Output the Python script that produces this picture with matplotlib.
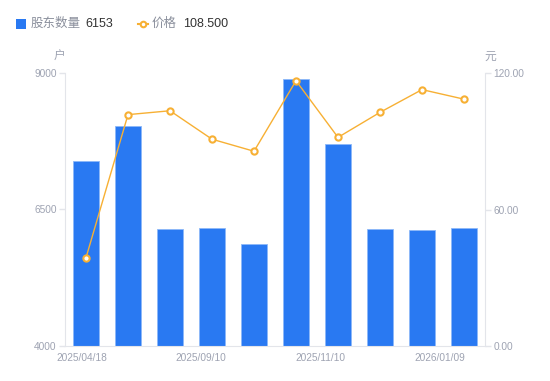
import numpy as np
import matplotlib
matplotlib.use("Agg")
import matplotlib.pyplot as plt
from matplotlib.lines import Line2D
from matplotlib.patches import Rectangle

plt.rcParams['font.family'] = ['Liberation Sans', 'Noto Sans CJK SC', 'DejaVu Sans']

# data
holders = [7390, 8035, 6140, 6155, 5865, 8885, 7700, 6145, 6120, 6153]
prices = [38.8, 101.7, 103.4, 90.9, 85.6, 116.6, 91.7, 102.7, 112.7, 108.5]
date_labels = ["2025/04/18", "2025/09/10", "2025/11/10", "2026/01/09"]

bar_color = "#2979F2"
line_color = "#F7B034"
tick_color = "#9EA3B2"
axis_color = "#E3E5EA"

fig = plt.figure(figsize=(5.5, 3.81), dpi=100)
W, H = 550, 381
ax = fig.add_axes([65 / W, 1 - 346 / H, 420 / W, 273 / H])
ax2 = ax.twinx()

x = np.arange(len(holders))
ax.bar(x, holders, width=0.6, color=bar_color, edgecolor="#8DB8F8", linewidth=0.6, zorder=2)
ax.set_xlim(-0.5, len(holders) - 0.5)
ax.set_ylim(4000, 9000)
ax.set_yticks([4000, 6500, 9000])

ax2.plot(x, prices, color=line_color, linewidth=1, marker="o", markersize=4.5,
         markerfacecolor="white", markeredgecolor=line_color, markeredgewidth=1.5, zorder=3)
ax2.set_ylim(0, 120)
ax2.set_yticks([0, 60, 120])
ax2.set_yticklabels(["0.00", "60.00", "120.00"])

ax.set_xticks(np.linspace(-0.1, 8.43, len(date_labels)))
ax.set_xticklabels(date_labels)

for a in (ax, ax2):
    for s in a.spines.values():
        s.set_visible(False)
    a.tick_params(axis="y", colors=axis_color, labelcolor=tick_color, labelsize=7.3, length=4, width=1)
    a.tick_params(axis="x", length=0, labelcolor=tick_color, labelsize=7.3, pad=5)
ax.spines["left"].set_visible(True)
ax.spines["left"].set_color(axis_color)
ax.spines["bottom"].set_visible(True)
ax.spines["bottom"].set_color(axis_color)
ax2.spines["right"].set_visible(True)
ax2.spines["right"].set_color(axis_color)
ax.tick_params(axis="y", pad=2)
ax2.tick_params(axis="y", pad=2)

# unit labels
fig.text(59 / W, 1 - 57 / H, "户", color=tick_color, fontsize=8.5, ha="center", va="center")
fig.text(490 / W, 1 - 57 / H, "元", color=tick_color, fontsize=8.5, ha="center", va="center")

# legend drawn by hand
fig.patches.append(Rectangle((16 / W, 1 - 29 / H), 10 / W, 10 / H, transform=fig.transFigure,
                             facecolor=bar_color, edgecolor="none"))
fig.text(31 / W, 1 - 24 / H, "股东数量", color="#8A8F9C", fontsize=9, va="center")
fig.text(85 / W, 1 - 24 / H, str(holders[-1]), color="#333333", fontsize=9, va="center")
fig.add_artist(Line2D([138 / W, 148 / W], [1 - 24 / H, 1 - 24 / H], transform=fig.transFigure,
                      color=line_color, linewidth=1.5))
fig.add_artist(Line2D([143 / W], [1 - 24 / H], transform=fig.transFigure, marker="o", markersize=4,
                      markerfacecolor="white", markeredgecolor=line_color, markeredgewidth=1.5))
fig.text(152 / W, 1 - 24 / H, "价格", color="#8A8F9C", fontsize=9, va="center")
fig.text(183 / W, 1 - 24 / H, "%.3f" % prices[-1], color="#333333", fontsize=9, va="center")

fig.savefig("out.png", dpi=100)
